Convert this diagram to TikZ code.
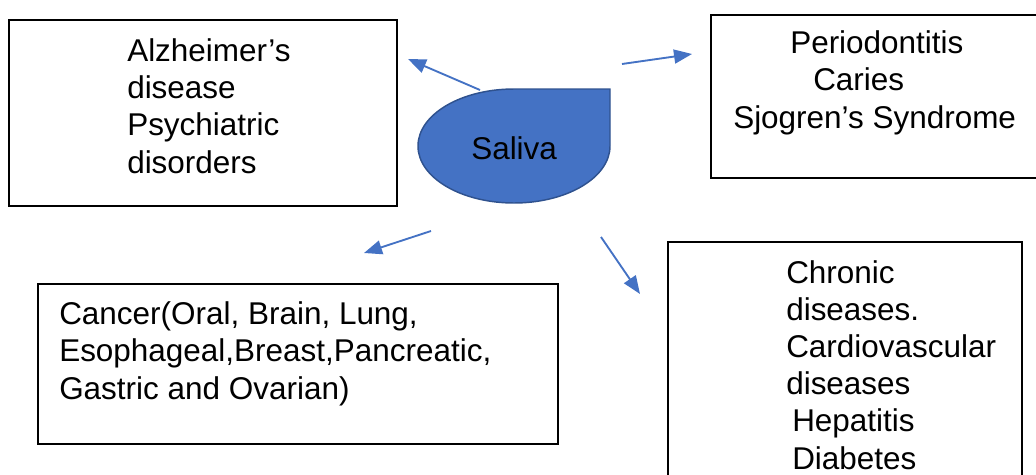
\documentclass[tikz,border=0pt]{standalone}
\usepackage{fontspec}
\setmainfont{Liberation Sans}
\usetikzlibrary{arrows.meta,fit}
\definecolor{salivablue}{HTML}{4472C4}
\definecolor{salivaedge}{HTML}{2F528F}

\begin{document}
\begin{tikzpicture}[
    x=0.75pt,
    y=-0.75pt,
    box/.style={draw=black, line width=1.2pt, inner sep=0pt},
    itemtext/.style={anchor=base west, align=left, inner sep=0pt,
      font=\fontsize{23.6}{27.9}\selectfont},
    link/.style={salivablue, line width=1.4pt,
      -{Triangle[length=13.5pt,width=10.5pt]}},
  ]
  \useasboundingbox (0,0) rectangle (1036,475);

  % boxes
  \node[box, fit={(9,20) (397,206)}] (brain) {};
  \node[box, fit={(711,15) (1040,178)}] (oral) {};
  \node[box, fit={(38,284) (558,444)}] (cancer) {};
  \node[box, fit={(668,242) (1022,480)}] (chronic) {};

  % texts, placed at the baseline of their last line
  \node[itemtext] (braintext) at (127,173)
    {Alzheimer’s\\disease\\Psychiatric\\disorders};
  \node[itemtext] (oraltext) at (733,128)
    {\hspace*{42.75pt}Periodontitis\\\hspace*{60pt}Caries\\Sjogren’s Syndrome};
  \node[itemtext] (cancertext) at (59,399)
    {Cancer(Oral, Brain, Lung,\\Esophageal,Breast,Pancreatic,\\Gastric and Ovarian)};
  \node[itemtext] (chronictext) at (786,469)
    {Chronic\\diseases.\\Cardiovascular\\diseases\\\hspace*{4.5pt}Hepatitis\\\hspace*{4.5pt}Diabetes};

  % saliva drop
  \draw[fill=salivablue, draw=salivaedge, line width=1.1pt]
    (514,89) -- (610,89) -- (610,146)
    arc[start angle=0, end angle=270, x radius=96, y radius=57] -- cycle;
  \node[itemtext] (saliva) at (471,159) {Saliva};

  \coordinate (brainstart) at (480,90);
  \coordinate (braintip) at (408,59);
  \coordinate (oralstart) at (622,64);
  \coordinate (oraltip) at (692,54);
  \coordinate (cancerstart) at (431,231);
  \coordinate (cancertip) at (364,253);
  \coordinate (chronicstart) at (601,237);
  \coordinate (chronictip) at (640,294);

  \draw[link] (brainstart) -- (braintip);
  \draw[link] (oralstart) -- (oraltip);
  \draw[link] (cancerstart) -- (cancertip);
  \draw[link] (chronicstart) -- (chronictip);
\end{tikzpicture}
\end{document}
